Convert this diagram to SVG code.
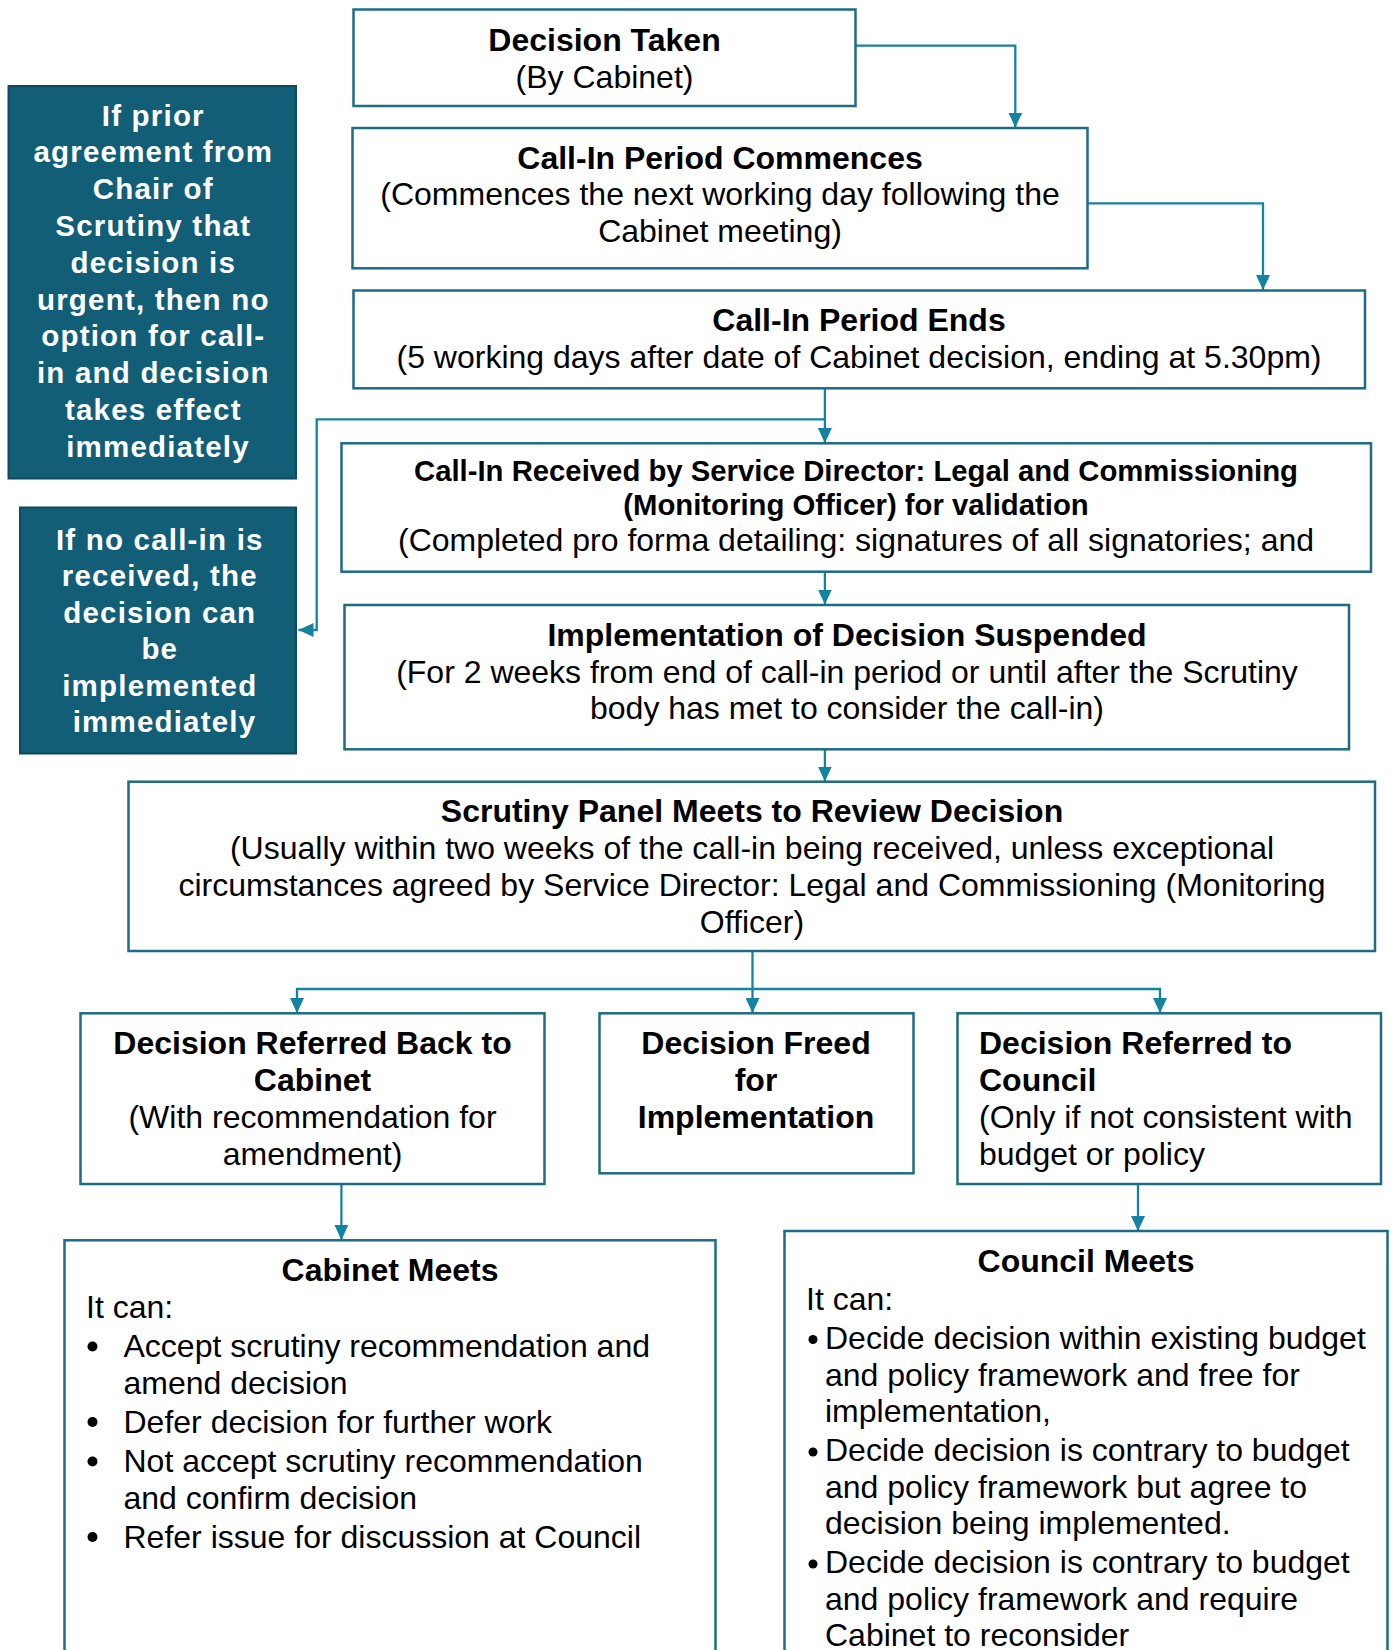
<svg xmlns="http://www.w3.org/2000/svg" width="1391" height="1650" viewBox="0 0 1391 1650">
<style>
.box{fill:#fff;stroke:#1D6C84;stroke-width:2.5}
.dark{fill:#125E76;stroke:#0D4A5D;stroke-width:2}
.t{font-family:"Liberation Sans",Arial,sans-serif;font-size:32px;fill:#000}
.b{font-weight:bold}
.s{font-size:29.3px}
.c{text-anchor:middle}
.w{font-family:"Liberation Sans",Arial,sans-serif;font-weight:bold;font-size:29.5px;letter-spacing:1.2px;fill:#fff;text-anchor:middle}
.con{fill:none;stroke:#1483A0;stroke-width:2.3}
.arr{marker-end:url(#ah)}
</style>
<defs>
<marker id="ah" markerUnits="userSpaceOnUse" viewBox="0 0 15 14" refX="15" refY="7" markerWidth="15" markerHeight="14" orient="auto">
<path d="M0,0 L15,7 L0,14 z" fill="#1483A0"/>
</marker>
</defs>

<g id="connectors">
<path class="con arr" d="M855.5,45.7 H1015.3 V127.5"/>
<path class="con arr" d="M1087.5,203.3 H1263 V290"/>
<path class="con arr" d="M824.9,388.3 V443"/>
<path class="con arr" d="M824.9,419.3 H316.7 V630 H298.5"/>
<path class="con arr" d="M824.9,571.7 V604.5"/>
<path class="con arr" d="M824.9,749.3 V781.5"/>
<path class="con arr" d="M752.5,951 V1013"/>
<path class="con arr" d="M752.5,989 H297 V1013"/>
<path class="con arr" d="M752.5,989 H1160 V1013"/>
<path class="con arr" d="M341.4,1184 V1240"/>
<path class="con arr" d="M1138,1184 V1231"/>
</g>

<g id="urgent">
<rect class="dark" x="8.5" y="86" width="287.5" height="392.5"/>
<text class="w">
<tspan x="158" y="125.5">If prior</tspan>
<tspan x="158" y="162.3">agreement from</tspan>
<tspan x="158" y="199.1">Chair of</tspan>
<tspan x="158" y="235.9">Scrutiny that</tspan>
<tspan x="158" y="272.7">decision is</tspan>
<tspan x="158" y="309.5">urgent, then no</tspan>
<tspan x="158" y="346.3">option for call-</tspan>
<tspan x="158" y="383.1">in and decision</tspan>
<tspan x="158" y="419.9">takes effect</tspan>
<tspan x="158" y="456.7">immediately</tspan>
</text>
</g>

<g id="no-callin">
<rect class="dark" x="20" y="507.5" width="276" height="246"/>
<text class="w">
<tspan x="164.5" y="549.5">If no call-in is</tspan>
<tspan x="164.5" y="586">received, the</tspan>
<tspan x="164.5" y="622.5">decision can</tspan>
<tspan x="164.5" y="659">be</tspan>
<tspan x="164.5" y="695.5">implemented</tspan>
<tspan x="164.5" y="732">immediately</tspan>
</text>
</g>

<g id="decision-taken">
<rect class="box" x="353.5" y="9.5" width="502" height="96.5"/>
<text class="t b c" x="604.5" y="50.5">Decision Taken</text>
<text class="t c" x="604.5" y="87.5">(By Cabinet)</text>
</g>

<g id="period-commences">
<rect class="box" x="352.5" y="128" width="735" height="140.3"/>
<text class="t b c" x="720" y="168.5">Call-In Period Commences</text>
<text class="t c" x="720" y="205">(Commences the next working day following the</text>
<text class="t c" x="720" y="241.5">Cabinet meeting)</text>
</g>

<g id="period-ends">
<rect class="box" x="353.5" y="290.5" width="1011.5" height="97.8"/>
<text class="t b c" x="859" y="330.5">Call-In Period Ends</text>
<text class="t c" x="859" y="367.5">(5 working days after date of Cabinet decision, ending at 5.30pm)</text>
</g>

<g id="callin-received">
<rect class="box" x="341.5" y="443.3" width="1029.5" height="128.4"/>
<text class="t b s c" x="856" y="481">Call-In Received by Service Director: Legal and Commissioning</text>
<text class="t b s c" x="856" y="514.5">(Monitoring Officer) for validation</text>
<text class="t c" x="856" y="551">(Completed pro forma detailing:  signatures of all signatories; and</text>
</g>

<g id="suspended">
<rect class="box" x="344.5" y="605" width="1004.5" height="144.3"/>
<text class="t b c" x="847" y="645.5">Implementation of Decision Suspended</text>
<text class="t c" x="847" y="682.5">(For 2 weeks from end of call-in period or until after the Scrutiny</text>
<text class="t c" x="847" y="719">body has met to consider the call-in)</text>
</g>

<g id="scrutiny-panel">
<rect class="box" x="128.5" y="781.7" width="1246.5" height="169.3"/>
<text class="t b c" x="752" y="821.5">Scrutiny Panel Meets to Review Decision</text>
<text class="t c" x="752" y="858.5">(Usually within two weeks of the call-in being received, unless exceptional</text>
<text class="t c" x="752" y="895.5">circumstances agreed by Service Director: Legal and Commissioning (Monitoring</text>
<text class="t c" x="752" y="932.5">Officer)</text>
</g>

<g id="referred-cabinet">
<rect class="box" x="80.5" y="1013.3" width="464" height="170.7"/>
<text class="t b c" x="312.5" y="1053.5">Decision Referred Back to</text>
<text class="t b c" x="312.5" y="1090.5">Cabinet</text>
<text class="t c" x="312.5" y="1127.5">(With recommendation for</text>
<text class="t c" x="312.5" y="1164.5">amendment)</text>
</g>

<g id="freed">
<rect class="box" x="599.5" y="1013.3" width="314" height="160"/>
<text class="t b c" x="756" y="1053.5">Decision Freed</text>
<text class="t b c" x="756" y="1090.5">for</text>
<text class="t b c" x="756" y="1128">Implementation</text>
</g>

<g id="referred-council">
<rect class="box" x="957.5" y="1013.3" width="423.5" height="170.7"/>
<text class="t b" x="979" y="1053.5">Decision Referred to</text>
<text class="t b" x="979" y="1090.5">Council</text>
<text class="t" x="979" y="1127.5">(Only if not consistent with</text>
<text class="t" x="979" y="1164.5">budget or policy</text>
</g>

<g id="cabinet-meets">
<rect class="box" x="64.5" y="1240.3" width="651" height="430"/>
<text class="t b c" x="390" y="1281">Cabinet Meets</text>
<text class="t" x="86" y="1317.5">It can:</text>
<circle cx="92.5" cy="1346.5" r="5"/>
<text class="t" x="123.5" y="1357">Accept scrutiny recommendation and</text>
<text class="t" x="123.5" y="1393.5">amend decision</text>
<circle cx="92.5" cy="1422" r="5"/>
<text class="t" x="123.5" y="1432.5">Defer decision for further work</text>
<circle cx="92.5" cy="1461.5" r="5"/>
<text class="t" x="123.5" y="1472">Not accept scrutiny recommendation</text>
<text class="t" x="123.5" y="1508.5">and confirm decision</text>
<circle cx="92.5" cy="1537" r="5"/>
<text class="t" x="123.5" y="1547.5">Refer issue for discussion at Council</text>
</g>

<g id="council-meets">
<rect class="box" x="784.5" y="1231" width="603" height="440"/>
<text class="t b c" x="1086" y="1271.5">Council Meets</text>
<text class="t" x="806" y="1309.5">It can:</text>
<circle cx="813" cy="1339.5" r="4.5"/>
<text class="t" x="825" y="1348.5">Decide decision within existing budget</text>
<text class="t" x="825" y="1385.5">and policy framework and free for</text>
<text class="t" x="825" y="1422">implementation,</text>
<circle cx="813" cy="1452" r="4.5"/>
<text class="t" x="825" y="1460.5">Decide decision is contrary to budget</text>
<text class="t" x="825" y="1497.5">and policy framework but agree to</text>
<text class="t" x="825" y="1534">decision being implemented.</text>
<circle cx="813" cy="1564" r="4.5"/>
<text class="t" x="825" y="1572.5">Decide decision is contrary to budget</text>
<text class="t" x="825" y="1609.5">and policy framework and require</text>
<text class="t" x="825" y="1646">Cabinet to reconsider</text>
</g>
</svg>
